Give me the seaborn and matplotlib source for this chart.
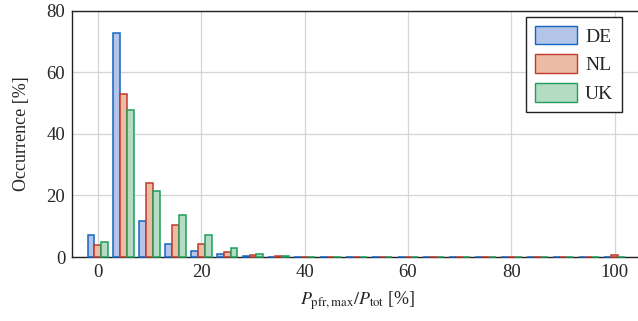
import numpy as np
import pandas as pd
import seaborn as sns
import matplotlib.pyplot as plt

# --- DATA ---
bins = [0, 5, 10, 15, 20, 25, 30, 35, 40, 45, 50, 55, 60, 65, 70, 75, 80, 85, 90, 95, 100]
countries = ["DE", "NL", "UK"]
de_vals = [7.3, 72.8, 11.6, 4.1, 2.0, 0.9, 0.45, 0.2, 0.1, 0.05, 0.05, 0.05, 0.05, 0.05,
           0.05, 0.05, 0.05, 0.05, 0.05, 0.05, 0.15]
nl_vals = [3.9, 53.0, 24.1, 10.5, 4.1, 1.8, 0.8, 0.25, 0.1, 0.05, 0.05, 0.05, 0.05, 0.05,
           0.05, 0.05, 0.05, 0.05, 0.05, 0.05, 0.8]
uk_vals = [4.9, 47.6, 21.5, 13.6, 7.1, 3.0, 1.1, 0.25, 0.1, 0.05, 0.05, 0.05, 0.05, 0.05,
           0.05, 0.05, 0.05, 0.05, 0.05, 0.05, 0.15]

edge_colors = {"DE": "#1565c0", "NL": "#c0392b", "UK": "#1e9e5a"}
fill_colors = {"DE": "#b3c6ea", "NL": "#ecbba4", "UK": "#b4dcc3"}

df = pd.DataFrame({
    "bin": bins * 3,
    "country": ["DE"] * len(bins) + ["NL"] * len(bins) + ["UK"] * len(bins),
    "value": de_vals + nl_vals + uk_vals,
})

sns.set_style("white")
plt.rcParams["font.family"] = ["Liberation Serif", "DejaVu Serif"]
plt.rcParams["mathtext.fontset"] = "stix"

fig = plt.figure(figsize=(6.38, 3.21), dpi=100)
ax = fig.add_axes([0.113, 0.199, 0.895, 0.768])

sns.barplot(data=df, x="bin", y="value", hue="country", hue_order=countries,
            palette=fill_colors, native_scale=True, width=0.8, ax=ax,
            errorbar=None, saturation=1, linewidth=1.0, zorder=3)

# colour the bar outlines per series, draw them over the bottom spine
for cont, c in zip(ax.containers, countries):
    for bar in cont:
        bar.set_edgecolor(edge_colors[c])
        bar.set_linewidth(1.1)
        bar.set_clip_on(False)

ax.set_xlim(-5, 105.5)
ax.set_ylim(0, 80)
ax.set_xticks([0, 20, 40, 60, 80, 100])
ax.set_yticks([0, 20, 40, 60, 80])
ax.grid(True, color="#d4d4d4", linewidth=0.9, zorder=0)
ax.set_axisbelow(True)
for s in ax.spines.values():
    s.set_color("#222222")
    s.set_linewidth(1.0)
ax.tick_params(axis="both", labelsize=13.5, length=0, pad=5)

ax.set_xlabel(r"$P_{\mathrm{pfr,max}}/P_{\mathrm{tot}}$ [%]", fontsize=13, labelpad=6)
ax.set_ylabel("Occurrence [%]", fontsize=13, labelpad=12)

handles, labels = ax.get_legend_handles_labels()
for h, c in zip(handles, countries):
    h.set_edgecolor(edge_colors[c])
    h.set_facecolor(fill_colors[c])
ax.legend(handles, labels, loc="upper right", bbox_to_anchor=(0.963, 0.974),
          fontsize=14, frameon=True, fancybox=False, edgecolor="#222222",
          framealpha=1, handlelength=2.2, handleheight=1.1, labelspacing=0.45,
          borderpad=0.45, handletextpad=0.4, borderaxespad=0)

plt.savefig("out.png", dpi=100)
